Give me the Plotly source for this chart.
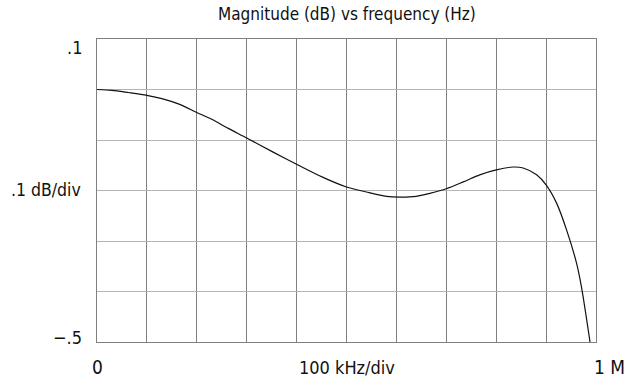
import plotly.graph_objects as go

# Frequency response of the filter: magnitude in dB against frequency in kHz
freq_khz = [0, 30, 63, 100, 130, 163, 200, 230, 263, 300, 353, 400, 453, 500,
            540, 580, 607, 640, 667, 700, 734, 767, 800, 834, 854, 881, 900,
            921, 941, 961, 971, 988]
mag_db = [0.0, -0.0016, -0.0060, -0.0115, -0.0180, -0.0285, -0.0455, -0.059,
          -0.077, -0.096, -0.124, -0.148, -0.174, -0.193, -0.203, -0.2115,
          -0.213, -0.2115, -0.2056, -0.1965, -0.183, -0.169, -0.159, -0.1535,
          -0.1555, -0.169, -0.189, -0.225, -0.278, -0.344, -0.392, -0.5]

x_ticks = [0, 100, 200, 300, 400, 500, 600, 700, 800, 900, 1000]
y_ticks = [0.1, 0.0, -0.1, -0.2, -0.3, -0.4, -0.5]

title_text = "Magnitude (dB) vs frequency (Hz)"
y_top_label = ".1"
y_mid_label = ".1 dB/div"
y_bottom_label = "\u2212.5"
x_left_label = "0"
x_mid_label = "100 kHz/div"
x_right_label = "1 M"

FONT = "DejaVu Sans Condensed, Liberation Sans Narrow, sans-serif"
TEXT_COLOR = "#111111"

fig = go.Figure()
fig.add_trace(go.Scatter(
    x=freq_khz, y=mag_db, mode="lines",
    line=dict(color="#111111", width=1.2, shape="spline", smoothing=0.8),
    hoverinfo="skip", showlegend=False,
))

fig.update_layout(
    width=626, height=381,
    margin=dict(l=97, r=30, t=39, b=39),
    paper_bgcolor="white", plot_bgcolor="white",
    font=dict(family=FONT, size=17, color=TEXT_COLOR),
    showlegend=False,
)
fig.update_xaxes(
    range=[0, 1000], tickvals=x_ticks, showticklabels=False, ticks="",
    showgrid=True, gridcolor="#808080", gridwidth=1, zeroline=False,
    showline=True, linecolor="#808080", linewidth=1, mirror=True,
    fixedrange=True,
)
fig.update_yaxes(
    range=[-0.5, 0.1], tickvals=y_ticks, showticklabels=False, ticks="",
    showgrid=True, gridcolor="#b4b4b4", gridwidth=1, zeroline=False,
    showline=True, linecolor="#808080", linewidth=1, mirror=True,
    fixedrange=True,
)

annotations = [
    dict(text=title_text, x=0.5, y=1.0, yshift=25, xref="paper", yref="paper",
         xanchor="center", yanchor="middle", font=dict(size=17)),
    dict(text=y_top_label, x=0, y=1.0, xshift=-13, yshift=-8, xref="paper",
         yref="paper", xanchor="right", yanchor="middle", font=dict(size=18)),
    dict(text=y_mid_label, x=0, y=0.5, xshift=-14, yshift=1, xref="paper",
         yref="paper", xanchor="right", yanchor="middle", font=dict(size=17.5)),
    dict(text=y_bottom_label, x=0, y=0.0, xshift=-13, yshift=5, xref="paper",
         yref="paper", xanchor="right", yanchor="middle", font=dict(size=18)),
    dict(text=x_left_label, x=0, y=0, yshift=-25, xref="paper", yref="paper",
         xanchor="center", yanchor="middle", font=dict(size=19)),
    dict(text=x_mid_label, x=0.5, y=0, yshift=-25, xref="paper", yref="paper",
         xanchor="center", yanchor="middle", font=dict(size=18)),
    dict(text=x_right_label, x=1.0, y=0, xshift=13, yshift=-25, xref="paper",
         yref="paper", xanchor="center", yanchor="middle", font=dict(size=19)),
]
for a in annotations:
    a["showarrow"] = False
    fig.add_annotation(**a)

fig.write_html("out.html")
